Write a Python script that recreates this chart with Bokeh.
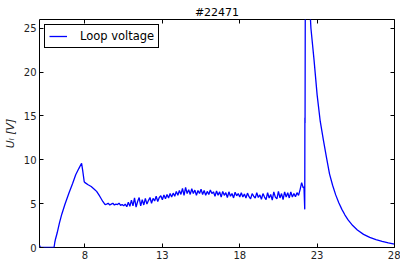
from bokeh.plotting import figure
from bokeh.models import Range1d, LinearAxis, FixedTicker, CustomJSTickFormatter, Legend, LegendItem
from bokeh.embed import file_html
from bokeh.resources import INLINE

title_text = "#22471"
series_name = "Loop voltage"
y_label = "U\u2097 [V]"
x_ticks = [8, 13, 18, 23, 28]
y_ticks = [0, 5, 10, 15, 20, 25]

# start-up phase: times [s] and loop voltage [V]
rise_t = [5.06, 5.10, 5.15, 6.00, 6.05, 6.10, 6.20, 6.35, 6.50, 6.70, 6.97, 7.20, 7.40,
          7.60, 7.78, 7.85, 7.95, 8.00, 8.20, 8.40, 8.60, 8.75, 8.90, 9.00, 9.15, 9.30]
rise_v = [0.25, 0.05, 0.0, 0.0, 0.6, 1.0, 1.65, 2.8, 3.8, 4.9, 6.25, 7.3, 8.3,
          9.0, 9.6, 8.8, 7.5, 7.4, 7.15, 6.95, 6.65, 6.4, 6.0, 5.7, 5.25, 4.9]

# flat-top phase (noisy)
flat_t = [9.4, 9.5, 9.6, 9.7, 9.8, 9.9, 10.0, 10.1, 10.2, 10.3, 10.4, 10.5, 10.6, 10.7,
          10.8, 10.9, 11.0, 11.1, 11.2, 11.3, 11.4, 11.5, 11.6, 11.7, 11.8, 11.9, 12.0,
          12.1, 12.2, 12.3, 12.4, 12.5, 12.6, 12.7, 12.8, 12.9, 13.0, 13.1, 13.2, 13.3, 13.4, 13.5,
          13.6, 13.7, 13.8, 13.9, 14.0, 14.1, 14.2, 14.3, 14.4, 14.5, 14.6, 14.7, 14.8, 14.9, 15.0,
          15.1, 15.2, 15.3, 15.4, 15.5, 15.6, 15.7, 15.8, 15.9, 16.0, 16.1, 16.2, 16.3, 16.4, 16.5,
          16.6, 16.7, 16.8, 16.9, 17.0, 17.1, 17.2, 17.3, 17.4, 17.5, 17.6, 17.7, 17.8, 17.9, 18.0,
          18.1, 18.2, 18.3, 18.4, 18.5, 18.6, 18.7, 18.8, 18.9, 19.0, 19.1, 19.2, 19.3, 19.4, 19.5,
          19.6, 19.7, 19.8, 19.9, 20.0, 20.1, 20.2, 20.3, 20.4, 20.5, 20.6, 20.7, 20.8, 20.9, 21.0,
          21.1, 21.2, 21.3, 21.4, 21.5, 21.6, 21.7, 21.8, 21.9, 22.0, 22.1]
flat_v = [4.95, 5.05, 4.85, 4.95, 5.05, 4.85, 4.95, 4.9, 5.05, 4.8, 4.9, 4.75, 4.95, 4.65,
          5.15, 4.7, 5.4, 4.75, 5.65, 4.6, 5.25, 5.7, 4.75, 5.45, 4.85, 5.6, 4.95,
          5.35, 5.7, 5.05, 5.6, 5.3, 5.85, 5.25, 5.7, 5.9, 5.45, 6.0, 5.55, 6.05, 5.65, 6.15,
          5.75, 6.2, 5.85, 6.4, 5.95, 6.5, 6.05, 6.75, 5.95, 6.85, 6.15, 6.6, 6.05, 6.7, 6.15,
          6.55, 5.95, 6.5, 6.15, 6.65, 6.05, 6.5, 5.95, 6.4, 6.05, 6.55, 6.15, 6.35, 5.85, 6.45,
          5.95, 6.35, 5.75, 6.4, 5.95, 6.25, 5.7, 6.35, 5.85, 6.15, 5.65, 6.3, 5.9, 6.15, 5.75,
          6.25, 5.75, 6.1, 5.65, 6.2, 5.8, 5.55, 6.15, 5.85, 5.65, 6.25, 5.7, 6.0, 5.5, 6.15,
          5.75, 5.45, 6.25, 5.65, 6.05, 5.4, 6.35, 5.75, 5.55, 6.4, 5.65, 6.15, 5.45, 6.35, 5.75,
          6.25, 5.65, 6.35, 5.75, 6.15, 5.8, 6.25, 5.95, 6.6, 7.4, 6.8]

# disruption spike and decay
decay_t = [22.15, 22.20, 22.21, 22.22, 22.25, 22.45, 22.60, 22.80, 23.00, 23.20, 23.40,
           23.60, 23.80, 24.00, 24.20, 24.40, 24.60, 24.80, 25.00, 25.30, 25.60, 26.00,
           26.40, 26.80, 27.20, 27.60, 28.00]
decay_v = [6.9, 4.35, 14.8, 14.2, 42.0, 30.0, 25.0, 21.4, 17.4, 14.4, 12.3,
           10.3, 8.4, 7.1, 6.0, 5.1, 4.35, 3.7, 3.15, 2.5, 2.0, 1.5,
           1.15, 0.9, 0.7, 0.52, 0.38]

t = rise_t + flat_t + decay_t
v = rise_v + flat_v + decay_v

p = figure(frame_width=355, frame_height=228,
           x_range=Range1d(5.06, 28), y_range=Range1d(0, 26),
           output_backend="svg", toolbar_location=None,
           x_axis_location=None, y_axis_location=None,
           min_border_left=32, min_border_right=6, min_border_top=19, min_border_bottom=0)
p.title.text = title_text
p.title.align = "center"
p.title.text_font = "DejaVu Sans"
p.title.text_font_size = "11px"
p.title.text_font_style = "normal"
p.title.text_color = "black"
p.title.standoff = 2
p.title.offset = 0

p.grid.visible = False
p.outline_line_color = "black"
p.outline_line_width = 1
p.outline_line_alpha = 1
p.background_fill_color = "white"
p.border_fill_color = "white"

def make_axis(ticks, labels=True):
    ax = LinearAxis(ticker=FixedTicker(ticks=ticks))
    ax.major_tick_in = 4
    ax.major_tick_out = 0
    ax.minor_tick_line_color = None
    ax.axis_line_color = None
    ax.major_tick_line_color = "black"
    ax.major_label_text_font = "DejaVu Sans"
    ax.major_label_text_font_size = "10px"
    ax.major_label_text_color = "#222222"
    ax.major_label_standoff = 3
    if not labels:
        ax.formatter = CustomJSTickFormatter(code="return ''")
        ax.major_label_standoff = 0
        ax.major_label_text_font_size = "1px"
    return ax

xb = make_axis(x_ticks)
p.add_layout(xb, "below")
yl = make_axis(y_ticks)
yl.axis_label = y_label
yl.axis_label_text_font = "DejaVu Sans"
yl.axis_label_text_font_size = "11px"
yl.axis_label_text_font_style = "italic"
yl.axis_label_standoff = 4
yl.axis_label_text_color = "#222222"
p.add_layout(yl, "left")
xt = make_axis(x_ticks, labels=False)
p.add_layout(xt, "above")
yr = make_axis(y_ticks, labels=False)
p.add_layout(yr, "right")

r = p.line(t, v, line_color="#0000ff", line_width=1.3)

legend = Legend(items=[LegendItem(label=series_name, renderers=[r])],
                location="top_left")
legend.margin = 5
legend.padding = 4
legend.spacing = 0
legend.glyph_width = 18
legend.glyph_height = 10
legend.label_height = 10
legend.label_standoff = 13
legend.label_text_font = "DejaVu Sans"
legend.label_text_font_size = "11.5px"
legend.label_text_color = "black"
legend.border_line_color = "black"
legend.border_line_width = 1
legend.border_line_alpha = 1
legend.background_fill_alpha = 1
p.add_layout(legend, "center")

open("out.html", "w").write(file_html(p, INLINE))
